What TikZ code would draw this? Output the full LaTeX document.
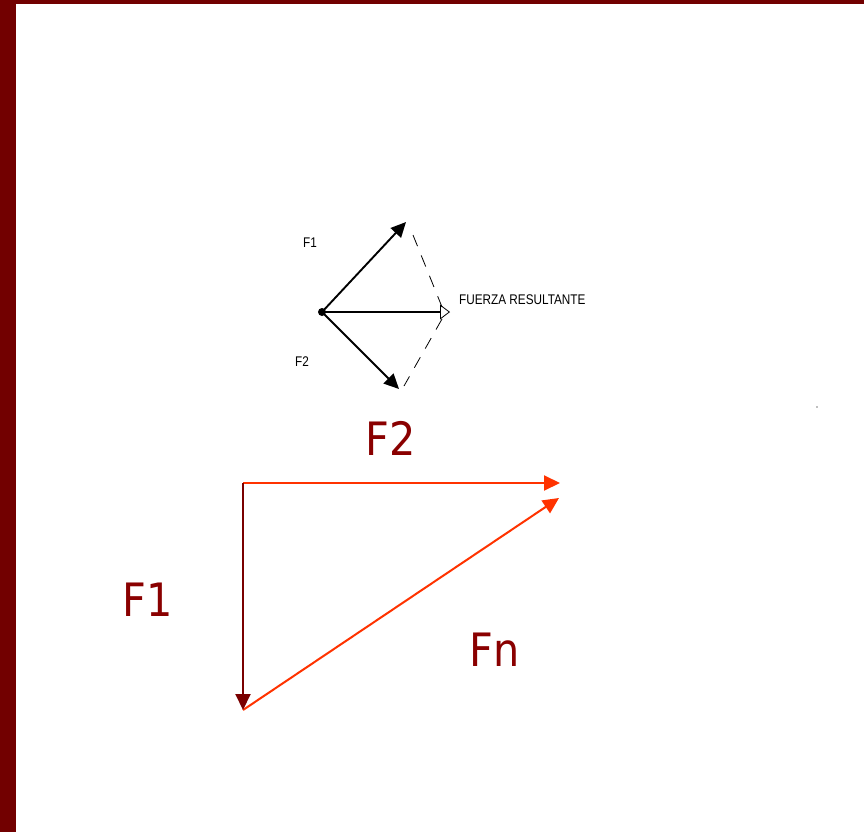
\documentclass[tikz,border=0pt]{standalone}
\usepackage{fontspec}
\setmainfont{DejaVu Sans}
\newfontfamily\arialfont{Liberation Sans}
\usetikzlibrary{arrows.meta}
\definecolor{frame}{HTML}{720000}
\definecolor{darkred}{HTML}{8A0000}
\definecolor{vecred}{HTML}{FF3300}
\definecolor{vecdark}{HTML}{7A0000}
\tikzset{
  bigtext/.style={text=darkred, font=\fontsize{46}{50}\selectfont, inner sep=0pt, xscale=0.9},
  smalltext/.style={font=\arialfont\fontsize{14}{16}\selectfont, inner sep=0pt, xscale=0.84},
  blackvec/.style={line width=1.9pt, -{Triangle[length=15pt,width=14pt]}},
  resvec/.style={line width=1.2pt, -{Triangle[open,length=10pt,width=15pt,line width=0.8pt]}},
  dashline/.style={line width=0.8pt, dash pattern=on 12pt off 10pt},
  redvec/.style={line width=2pt, vecred, -{Triangle[length=16pt,width=15pt]}},
  darkvec/.style={line width=2pt, vecdark, -{Triangle[length=16pt,width=15pt]}}
}
\begin{document}
\begin{tikzpicture}[x=1pt,y=-1pt]
\useasboundingbox (0,0) rectangle (864,832);
\fill[white] (0,0) rectangle (864,832);
\fill[frame] (0,0) rectangle (864,4);
\fill[frame] (0,0) rectangle (16,832);
% small diagram
\coordinate (o) at (322,312);
\coordinate (f1tip) at (406,222);
\coordinate (f2tip) at (399,389);
\coordinate (rtip) at (450,312);
\coordinate (d1a) at (413,235);
\coordinate (d1b) at (442,307);
\coordinate (d2a) at (442,319);
\coordinate (d2b) at (404,386);
\draw[blackvec] (o) -- (f1tip);
\draw[blackvec] (o) -- (f2tip);
\draw[resvec] (o) -- (rtip);
\fill (o) circle (4pt);
\draw[dashline] (d1a) -- (d1b);
\draw[dashline] (d2a) -- (d2b);
\node[smalltext] (lf1) at (310,243) {F1};
\node[smalltext] (lf2) at (302,362) {F2};
\node[smalltext, anchor=west] (lres) at (459,300) {FUERZA RESULTANTE};
\fill[gray] (817,407) circle (0.8pt);
% big diagram
\coordinate (A) at (243,483);
\coordinate (B) at (560,483);
\coordinate (C) at (243,710);
\coordinate (D) at (559,498);
\draw[redvec] (A) -- (B);
\draw[redvec] (C) -- (D);
\draw[darkvec] (A) -- (C);
\node[bigtext] (bf2) at (391,438) {F2};
\node[bigtext] (bf1) at (148,600) {F1};
\node[bigtext] (bfn) at (495,650) {Fn};
\end{tikzpicture}
\end{document}
